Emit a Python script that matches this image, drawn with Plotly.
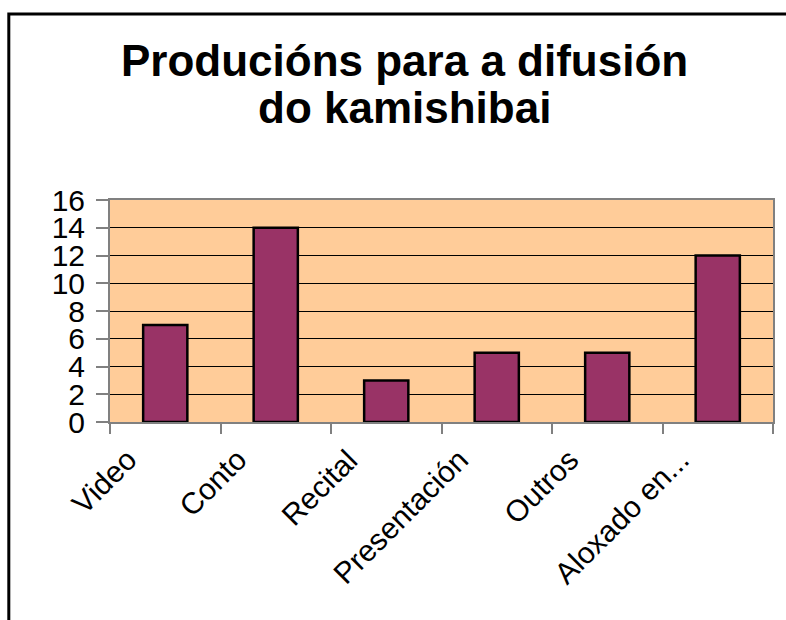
import plotly.graph_objects as go

categories = ["Video", "Conto", "Recital", "Presentación", "Outros", "Aloxado en..."]
values = [7, 14, 3, 5, 5, 12]
y_ticks = [0, 2, 4, 6, 8, 10, 12, 14, 16]
title_lines = ["Producións para a difusión", "do kamishibai"]

W, H = 786, 620
ML, MR, MT, MB = 110, 11, 200, 198
PW = W - ML - MR
PH = H - MT - MB

def px_x(x):
    return (x - ML) / PW

def px_y(y):
    return (H - MB - y) / PH

FONT = "Liberation Sans, Arial, sans-serif"

fig = go.Figure(go.Bar(
    x=categories, y=values,
    marker=dict(color="#993366", line=dict(color="black", width=2.5)),
))

fig.update_layout(
    width=W, height=H,
    margin=dict(l=ML, r=MR, t=MT, b=MB),
    paper_bgcolor="white",
    plot_bgcolor="#FFCC99",
    bargap=0.6,
    showlegend=False,
    font=dict(family=FONT, color="black"),
)

fig.update_xaxes(
    range=[-0.5, len(categories) - 0.5], autorange=False,
    tickson="boundaries", ticks="outside", ticklen=10, tickcolor="#808080", tickwidth=1.5,
    showticklabels=False,
    showline=True, linecolor="#808080", linewidth=2, mirror=True,
    showgrid=False,
)
fig.update_yaxes(
    range=[0, 16], tickvals=y_ticks, ticks="outside", ticklen=12, tickcolor="#808080", tickwidth=1.5,
    tickfont=dict(size=30, family=FONT, color="black"), ticklabelstandoff=5,
    showline=True, linecolor="#808080", linewidth=2, mirror=True,
    showgrid=True, gridcolor="black", gridwidth=1,
    zeroline=False,
)

# category labels, rotated like the reference
for cat in categories:
    fig.add_annotation(text=cat, x=cat, xref="x", yref="paper", y=px_y(440),
                       xanchor="right", yanchor="top", xshift=-20, textangle=-45,
                       showarrow=False, font=dict(size=30, family=FONT, color="black"))

# outer chart border (cut off at right and bottom in the reference)
fig.add_shape(type="path", xref="paper", yref="paper",
              path=f"M {px_x(792)} {px_y(14)} L {px_x(8.5)} {px_y(14)} L {px_x(8.5)} {px_y(630)}",
              line=dict(color="black", width=3))

for line, ypix in zip(title_lines, [60, 107]):
    fig.add_annotation(text=f"<b>{line}</b>", xref="paper", yref="paper",
                       x=px_x(405), y=px_y(ypix), xanchor="center", yanchor="middle",
                       showarrow=False, font=dict(size=44, family=FONT, color="black"))

fig.write_html("out.html", config={"displayModeBar": False},
               post_script="document.body.style.margin='0';")
